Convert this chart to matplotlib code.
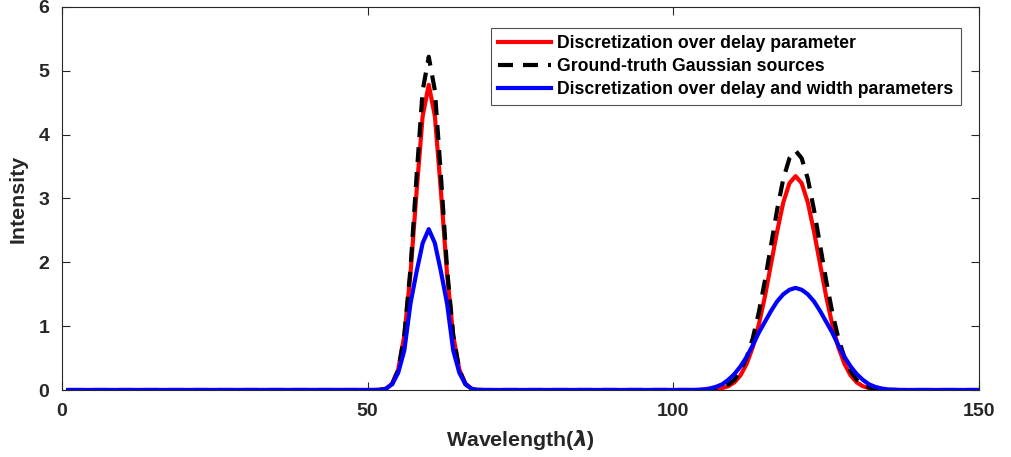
import numpy as np
import matplotlib
matplotlib.use("Agg")
import matplotlib.pyplot as plt

# wavelength grid
wavelength = np.arange(1, 151)

# values read around the two peaks (first peak x=52..68, second x=104..136)
peak1_start = 52
gt_peak1 = [0.004, 0.02, 0.09, 0.31, 0.86, 1.89, 3.34, 4.69, 5.22,
            4.69, 3.34, 1.89, 0.86, 0.31, 0.09, 0.02, 0.004]
delay_peak1 = [0.001, 0.02, 0.10, 0.32, 0.85, 1.81, 3.10, 4.29, 4.78,
               4.29, 3.10, 1.81, 0.85, 0.32, 0.10, 0.02, 0.001]
width_peak1 = [0.0, 0.02, 0.09, 0.27, 0.62, 1.35, 1.85, 2.30, 2.52,
               2.30, 1.85, 1.35, 0.62, 0.27, 0.09, 0.02, 0.0]

peak2_start = 104
gt_peak2 = [0.001, 0.003, 0.008, 0.02, 0.04, 0.086, 0.16, 0.30, 0.51, 0.81,
            1.22, 1.72, 2.28, 2.83, 3.31, 3.63, 3.75,
            3.63, 3.31, 2.83, 2.28, 1.72, 1.22, 0.81, 0.51, 0.30, 0.16,
            0.086, 0.04, 0.02, 0.008, 0.003, 0.001]
delay_peak2 = [0.0, 0.002, 0.005, 0.013, 0.03, 0.06, 0.12, 0.23, 0.41, 0.67,
               1.03, 1.47, 1.98, 2.49, 2.94, 3.24, 3.35,
               3.24, 2.94, 2.49, 1.98, 1.47, 1.03, 0.67, 0.41, 0.23, 0.12,
               0.06, 0.03, 0.013, 0.005, 0.002, 0.0]
width_peak2 = [0.004, 0.01, 0.025, 0.05, 0.09, 0.16, 0.25, 0.37, 0.52, 0.70,
               0.90, 1.07, 1.24, 1.39, 1.50, 1.57, 1.60,
               1.57, 1.50, 1.39, 1.24, 1.07, 0.90, 0.70, 0.52, 0.37, 0.25,
               0.16, 0.09, 0.05, 0.025, 0.01, 0.004]


def build(p1, p2):
    y = np.zeros(len(wavelength))
    i1 = peak1_start - wavelength[0]
    i2 = peak2_start - wavelength[0]
    y[i1:i1 + len(p1)] = p1
    y[i2:i2 + len(p2)] = p2
    return y


delay_only = build(delay_peak1, delay_peak2)
ground_truth = build(gt_peak1, gt_peak2)
delay_width = build(width_peak1, width_peak2)

plt.rcParams['font.family'] = ['Liberation Sans', 'DejaVu Sans']
plt.rcParams['font.weight'] = 'bold'
plt.rcParams['mathtext.fontset'] = 'dejavusans'

fig, ax = plt.subplots(figsize=(10.11, 4.57), dpi=100)
fig.subplots_adjust(left=0.0613, right=0.9683, top=0.9847, bottom=0.1466)

ax.plot(wavelength, delay_only, color='red', lw=3,
        label='Discretization over delay parameter')
ax.plot(wavelength, ground_truth, color='black', lw=3, ls=(0, (3.6, 2.4)),
        label='Ground-truth Gaussian sources')
ax.plot(wavelength, delay_width, color='blue', lw=3,
        label='Discretization over delay and width parameters')

ax.set_xlim(0, 150)
ax.set_ylim(0, 6)
ax.set_xticks([0, 50, 100, 150])
ax.set_yticks(range(0, 7))

axis_color = (0.15, 0.15, 0.15)
for s in ax.spines.values():
    s.set_color(axis_color)
    s.set_linewidth(0.8)
ax.tick_params(direction='in', length=6, width=0.8, colors=axis_color,
               labelsize=14, top=True, right=True)
ax.tick_params(axis='x', pad=9)
ax.tick_params(axis='y', pad=9)
for t in ax.get_xticklabels() + ax.get_yticklabels():
    t.set_fontweight('bold')

ax.set_xlabel(r'Wavelength($\lambda$)', fontsize=15.4, fontweight='bold',
              color=axis_color, labelpad=6)
ax.set_ylabel('Intensity', fontsize=15.4, fontweight='bold',
              color=axis_color, labelpad=8)

leg = ax.legend(loc='upper right', bbox_to_anchor=(0.98, 0.945),
                prop={'size': 12.7, 'weight': 'bold'}, frameon=True,
                fancybox=False, edgecolor=axis_color, handlelength=3.0,
                handletextpad=0.35, borderpad=0.4, labelspacing=0.34,
                borderaxespad=0)
leg.get_frame().set_linewidth(0.8)

fig.savefig('out.png', dpi=100)
